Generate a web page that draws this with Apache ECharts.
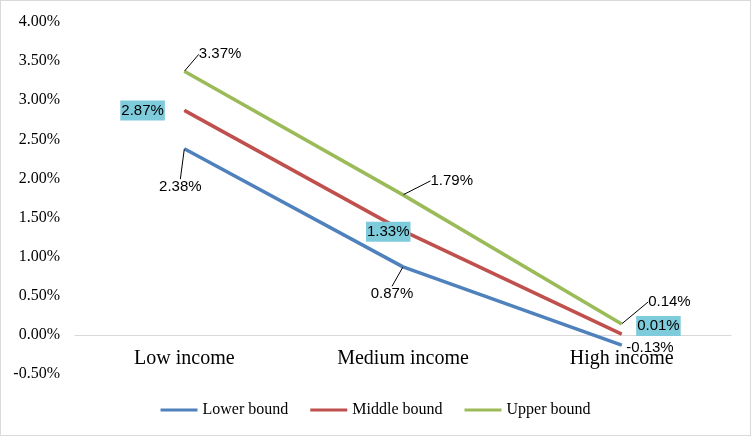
<!DOCTYPE html>
<html><head><meta charset="utf-8">
<script src="https://cdn.jsdelivr.net/npm/echarts@6/dist/echarts.min.js"></script>
<style>html,body{margin:0;padding:0;background:#fff}#c{width:751px;height:436px;box-sizing:border-box;border:1px solid #d9d9d9}</style>
</head><body><div id="c"></div>
<script>
const categories = ['Low income', 'Medium income', 'High income'];
const lowerBound = [2.38, 0.87, -0.13];
const middleBound = [2.87, 1.33, 0.01];
const upperBound = [3.37, 1.79, 0.14];
const yMin = -0.5, yMax = 4, yStep = 0.5;

const chart = echarts.init(document.getElementById('c'));
const cyan = '#7ECBDB';
const lblFont = {fontFamily: 'Liberation Sans, Arial, sans-serif', fontSize: 15, color: '#000'};
// label layout per series & point: [position, dx, dy, showLine]
const layouts = [
  [['bottom', -4, 25, true], ['bottom', -11, 14, true], ['right', -1, 3, false]],
  [['left', -14, 0, false], ['left', 13, 1, false], ['right', 9, -8, false]],
  [['right', 9, -17, true], ['right', 22, -14, true], ['right', 21, -22, true]]
];
const names = ['Lower bound', 'Middle bound', 'Upper bound'];
const colors = ['#4F81BD', '#C0504D', '#9BBB59'];
const datasets = [lowerBound, middleBound, upperBound];

function mkSeries(i) {
  const boxed = i === 1;
  return {
    name: names[i], type: 'line', symbol: 'circle', showSymbol: true, symbolSize: 1,
    lineStyle: {width: 3.5, color: colors[i]}, itemStyle: {color: colors[i]},
    z: 2 + i,
    data: datasets[i].map((v, j) => ({
      value: v,
      label: Object.assign({
        show: true, position: layouts[i][j][0], distance: 5,
        formatter: p => p.value.toFixed(2) + '%'
      }, lblFont, boxed ? {backgroundColor: cyan, padding: [3, 1, 2, 1]} : {}),
      labelLine: {show: layouts[i][j][3], lineStyle: {color: '#000', width: 1}}
    })),
    labelLayout: p => ({dx: layouts[i][p.dataIndex][1], dy: layouts[i][p.dataIndex][2]})
  };
}

chart.setOption({
  animation: false,
  grid: {left: 74, right: 19, top: 21, bottom: 61},
  legend: {
    bottom: 12, left: 'center', itemWidth: 37, itemHeight: 3, itemGap: 22,
    icon: 'rect',
    textStyle: {fontFamily: 'Liberation Serif, Times New Roman, serif', fontSize: 16, color: '#000'},
    data: names
  },
  xAxis: {
    type: 'category', data: categories, boundaryGap: true,
    axisLine: {onZero: true, lineStyle: {color: '#d9d9d9', width: 1}},
    axisTick: {show: false},
    axisLabel: {margin: -25, fontFamily: 'Liberation Serif, Times New Roman, serif', fontSize: 20, color: '#000'}
  },
  yAxis: {
    type: 'value', min: yMin, max: yMax, interval: yStep,
    axisLine: {show: false}, axisTick: {show: false}, splitLine: {show: false},
    axisLabel: {margin: 15, fontFamily: 'Liberation Serif, Times New Roman, serif', fontSize: 16, color: '#000',
      formatter: v => v.toFixed(2) + '%'}
  },
  series: [mkSeries(0), mkSeries(1), mkSeries(2)]
});
</script></body></html>
